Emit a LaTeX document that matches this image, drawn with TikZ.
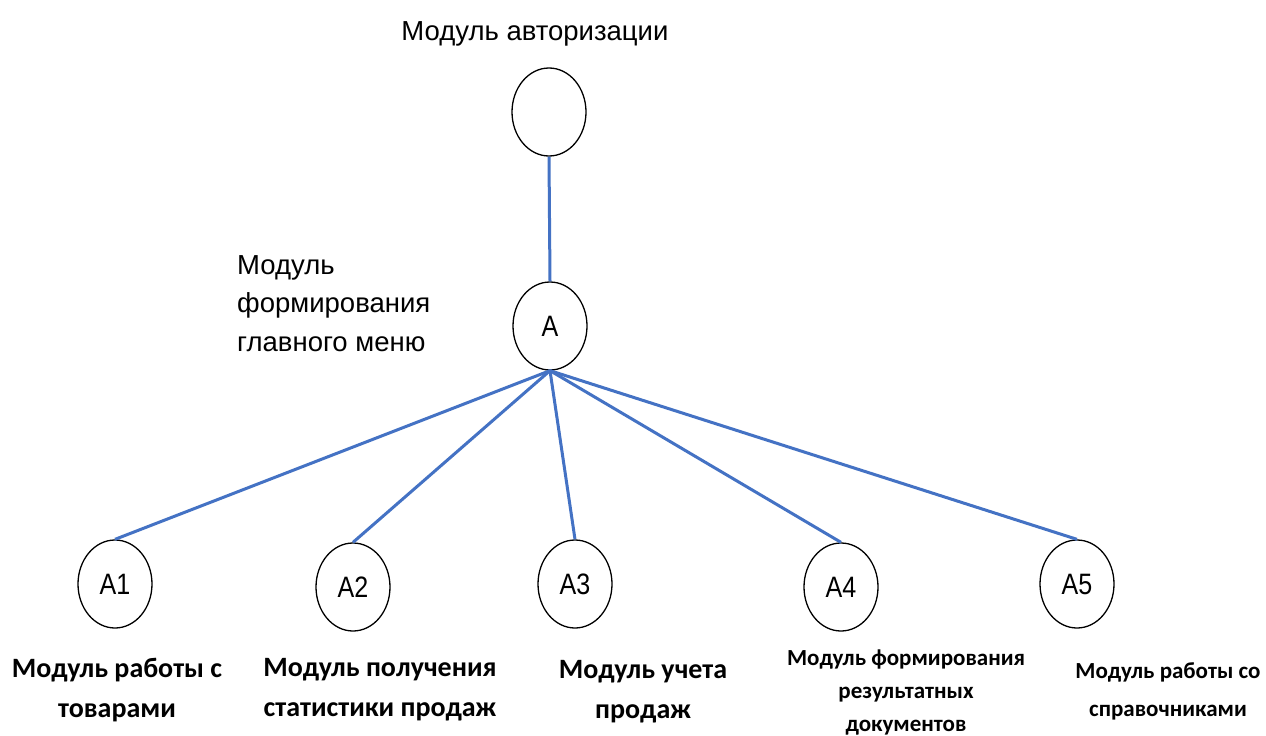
\documentclass[tikz,border=0pt]{standalone}
\usepackage{fontspec}
\setmainfont{Liberation Sans}
\newfontfamily\calib{Carlito}
\newfontfamily\narrowfont[FakeStretch=0.85]{Liberation Sans}
\usetikzlibrary{shapes.geometric}
\definecolor{linkblue}{RGB}{68,114,196}
\begin{document}
\begin{tikzpicture}[x=1pt,y=-1pt,
  ell/.style={draw=black, line width=1.3pt, ellipse, minimum width=74pt, minimum height=88pt, inner sep=0pt, font=\narrowfont\fontsize{29.5}{32}\selectfont},
  link/.style={draw=linkblue, line width=3pt},
  toplab/.style={font=\fontsize{27.5}{38.5}\selectfont, inner sep=0pt},
  botlab/.style={font=\calib\bfseries\fontsize{28}{40}\selectfont, align=center, inner sep=0pt, anchor=north},
  smlab/.style={font=\calib\bfseries\fontsize{23}{33}\selectfont, align=center, inner sep=0pt, anchor=north}]
\useasboundingbox (0,0) rectangle (1266,736);
\fill[white] (0,0) rectangle (1266,736);

\node[ell] (top) at (549,112) {};
\node[ell] (A) at (550,326) {A};
\node[ell] (A1) at (115,584) {A1};
\node[ell] (A2) at (353,587) {A2};
\node[ell] (A3) at (575,584) {A3};
\node[ell] (A4) at (841,587) {A4};
\node[ell] (A5) at (1077,584) {A5};

\draw[link] (top.south) -- (A.north);
\draw[link] (A.south) -- (A1.north);
\draw[link] (A.south) -- (A2.north);
\draw[link] (A.south) -- (A3.north);
\draw[link] (A.south) -- (A4.north);
\draw[link] (A.south) -- (A5.north);

\node[toplab, anchor=base] (lauth) at (535,40) {Модуль авторизации};
\node[toplab, align=left, anchor=north west] (lmenu) at (237,255) {Модуль\\формирования\\главного меню};

\node[botlab] (l1) at (117,658) {Модуль работы с\\товарами};
\node[botlab] (l2) at (380,658) {Модуль получения\\статистики продаж};
\node[botlab] (l3) at (643,660) {Модуль учета\\продаж};
\node[smlab] (l4) at (906,650) {Модуль формирования\\результатных\\документов};
\node[smlab, font=\calib\bfseries\fontsize{23}{38}\selectfont] (l5) at (1168,662) {Модуль работы со\\справочниками};
\end{tikzpicture}
\end{document}
